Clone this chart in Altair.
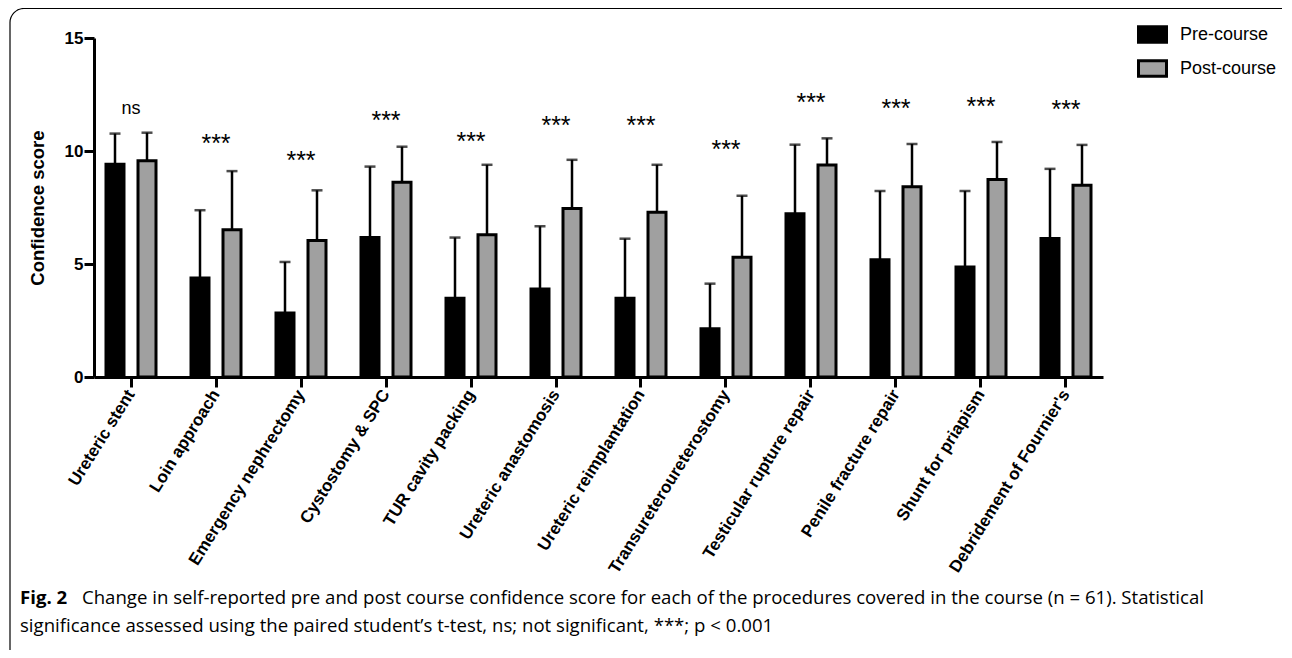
import altair as alt
import pandas as pd

procedures = [
    "Ureteric stent", "Loin approach", "Emergency nephrectomy", "Cystostomy & SPC",
    "TUR cavity packing", "Ureteric anastomosis", "Ureteric reimplantation",
    "Transureteroureterostomy", "Testicular rupture repair", "Penile fracture repair",
    "Shunt for priapism", "Debridement of Fournier's",
]
phases = ["Pre-course", "Post-course"]

pre_mean = [9.41, 4.38, 2.83, 6.17, 3.49, 3.89, 3.49, 2.14, 7.22, 5.19, 4.87, 6.13]
pre_upper = [10.77, 7.38, 5.09, 9.31, 6.17, 6.67, 6.12, 4.13, 10.28, 8.23, 8.23, 9.21]
post_mean = [9.57, 6.52, 6.04, 8.62, 6.29, 7.46, 7.29, 5.30, 9.38, 8.42, 8.74, 8.48]
post_upper = [10.81, 9.11, 8.26, 10.19, 9.39, 9.61, 9.39, 8.02, 10.56, 10.31, 10.40, 10.27]

sig_labels = ["ns", "***", "***", "***", "***", "***", "***", "***", "***", "***", "***", "***"]
sig_y = [11.88, 10.30, 9.57, 11.32, 10.39, 11.10, 11.10, 10.03, 12.14, 11.87, 11.96, 11.81]

caption_bold = "Fig. 2"
caption_line1 = ("Change in self-reported pre and post course confidence score for each of the "
                 "procedures covered in the course (n = 61). Statistical")
caption_line2 = ("significance assessed using the paired student\u2019s t-test, ns; not significant, "
                 "***; p < 0.001")

rows = []
for i, p in enumerate(procedures):
    rows.append({"procedure": p, "phase": phases[0], "mean": pre_mean[i], "upper": pre_upper[i]})
    rows.append({"procedure": p, "phase": phases[1], "mean": post_mean[i], "upper": post_upper[i]})
df = pd.DataFrame(rows)
sig_df = pd.DataFrame({"procedure": procedures, "label": sig_labels, "y": sig_y})
one = pd.DataFrame({"a": [0]})

FONT = "Liberation Sans"
W, H = 1009, 339

x_enc = alt.X(
    "procedure:N", sort=procedures,
    scale=alt.Scale(paddingInner=0.247, paddingOuter=0.0588),
    axis=alt.Axis(
        title=None, labelAngle=-58, labelAlign="right", labelBaseline="middle",
        labelFont=FONT, labelFontSize=17, labelFontWeight="bold", labelColor="black",
        labelLimit=400, labelPadding=4, tickSize=10, tickWidth=3, tickColor="black",
        domainWidth=3, domainColor="black", grid=False,
    ),
)
xoff_enc = alt.XOffset("phase:N", sort=phases,
                       scale=alt.Scale(paddingInner=0.4375, paddingOuter=0.21875))
y_scale = alt.Scale(domain=[0, 15])

bars = alt.Chart(df).mark_bar(stroke="black", strokeWidth=3).encode(
    x=x_enc,
    xOffset=xoff_enc,
    y=alt.Y(
        "mean:Q", scale=y_scale,
        axis=alt.Axis(
            values=[0, 5, 10, 15], title="Confidence score", titleFont=FONT,
            titleFontSize=18.5, titleFontWeight="bold", titleColor="black",
            titleX=-57, titleY=169.5, titleAngle=-90, titleBaseline="middle",
            labelFont=FONT, labelFontSize=17, labelFontWeight="bold", labelColor="black",
            labelPadding=1, tickSize=10, tickWidth=3, tickColor="black",
            domainWidth=3, domainColor="black", grid=False,
        ),
    ),
    fill=alt.Fill(
        "phase:N", sort=phases,
        scale=alt.Scale(domain=phases, range=["#000000", "#a0a0a0"]),
        legend=alt.Legend(
            title=None, orient="none", legendX=1043, legendY=-19, padding=0,
            symbolType="M-1,-0.55H1V0.55H-1Z", symbolSize=784, symbolStrokeColor="black",
            symbolStrokeWidth=3, labelFont=FONT, labelFontSize=18, labelColor="black",
            labelOffset=12, rowPadding=4,
        ),
    ),
)

err = alt.Chart(df).mark_rule(color="black", strokeWidth=2.5).encode(
    x=x_enc, xOffset=xoff_enc, y=alt.Y("mean:Q", scale=y_scale), y2="upper:Q"
)
caps = alt.Chart(df).mark_tick(color="black", size=11, thickness=2.5).encode(
    x=x_enc, xOffset=xoff_enc, y=alt.Y("upper:Q", scale=y_scale)
)

sig_ns = alt.Chart(sig_df).transform_filter(alt.datum.label == "ns").mark_text(
    font=FONT, fontSize=18, color="black", baseline="middle"
).encode(x=alt.X("procedure:N", sort=procedures), y=alt.Y("y:Q", scale=y_scale), text="label:N")
sig_star = alt.Chart(sig_df).transform_filter(alt.datum.label != "ns").mark_text(
    font=FONT, fontSize=25, color="black", baseline="middle"
).encode(x=alt.X("procedure:N", sort=procedures), y=alt.Y("y:Q", scale=y_scale), text="label:N")

border = alt.Chart(one).mark_rect(
    filled=False, stroke="black", strokeWidth=1.2, cornerRadius=14
).encode(x=alt.value(-84), x2=alt.value(1300), y=alt.value(-29.5), y2=alt.value(700))

cap_bold = alt.Chart(one).mark_text(
    font="Open Sans", fontSize=18.6, fontWeight="bold", align="left", baseline="middle", color="black"
).encode(x=alt.value(-74), y=alt.value(560), text=alt.value(caption_bold))
cap_l1 = alt.Chart(one).mark_text(
    font="Open Sans", fontSize=18.6, align="left", baseline="middle", color="black"
).encode(x=alt.value(-12), y=alt.value(560), text=alt.value(caption_line1))
cap_l2 = alt.Chart(one).mark_text(
    font="Open Sans", fontSize=18.6, align="left", baseline="middle", color="black"
).encode(x=alt.value(-74), y=alt.value(588), text=alt.value(caption_line2))

chart = alt.layer(
    border, bars, err, caps, sig_ns, sig_star, cap_bold, cap_l1, cap_l2
).properties(
    width=W, height=H,
    autosize=alt.AutoSizeParams(type="none"),
    padding={"left": 86, "top": 30, "right": 179, "bottom": 273},
).configure_view(stroke=None)

chart.save("out.html", embed_options={"renderer": "svg", "actions": False})
